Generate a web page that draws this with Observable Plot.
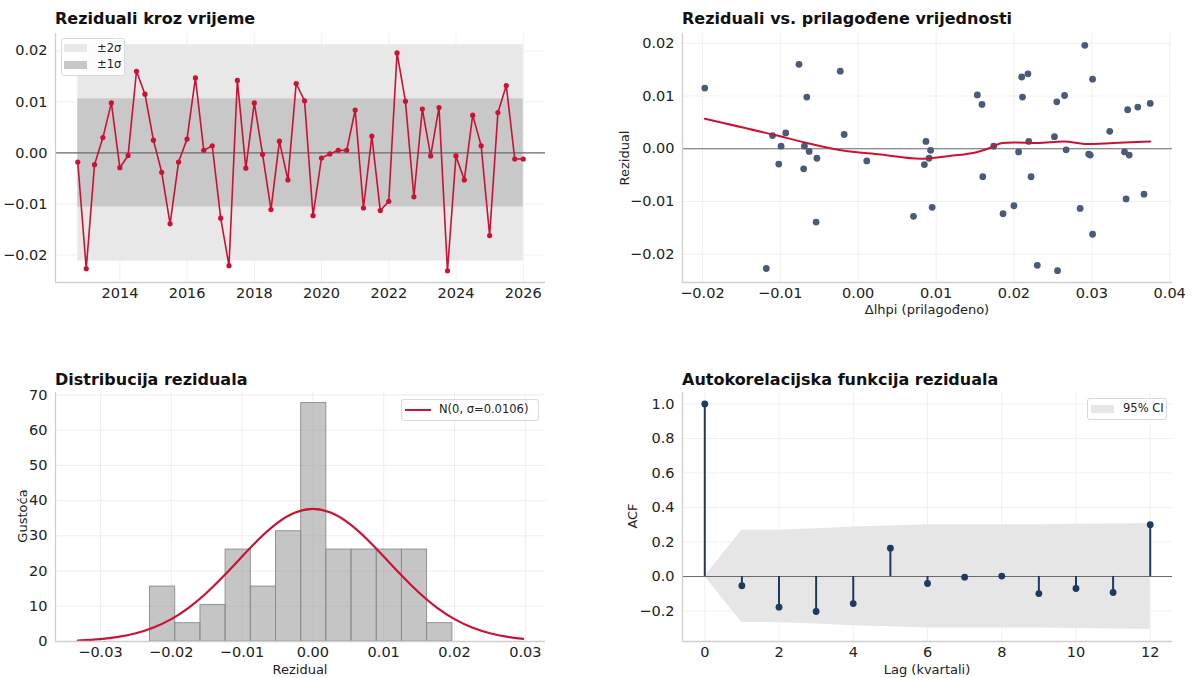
<!DOCTYPE html>
<html><head><meta charset="utf-8">
<script src="https://cdn.jsdelivr.net/npm/d3@7"></script>
<script src="https://cdn.jsdelivr.net/npm/@observablehq/plot@0.6"></script>
<style>
body{margin:0;background:#fff;}
#fig{position:relative;width:1194px;height:678px;overflow:hidden;font-family:"DejaVu Sans",sans-serif;color:#222;background:#fff;}
#fig svg, #fig svg g, #fig svg text{font-size:14.5px !important;font-family:"DejaVu Sans",sans-serif !important;}
.panel{position:absolute;}
.title{position:absolute;font-weight:bold;font-size:16px;color:#111;white-space:nowrap;line-height:1;transform:translateY(-50%);}
.lab{position:absolute;font-size:13px;white-space:nowrap;line-height:1;color:#222;}
.ylab{transform:translate(-50%,-50%) rotate(-90deg);}
.xlab{transform:translate(-50%,-50%);}
.box{position:absolute;background:rgba(255,255,255,0.85);border:1px solid #d9d9d9;border-radius:3px;box-sizing:border-box;}
.ltxt{position:absolute;font-size:11.5px;white-space:nowrap;line-height:1;transform:translateY(-50%);color:#222;}
.abs{position:absolute;}
</style></head>
<body>
<div id="fig"></div>
<script>
// ---------- data ----------
const residuals = [-0.0018, -0.0227, -0.0023, 0.0030, 0.0098, -0.0029, -0.0005, 0.0160, 0.0115, 0.0025,
 -0.0038, -0.0139, -0.0018, 0.0027, 0.0147, 0.0005, 0.0014, -0.0128, -0.0221, 0.0142,
 -0.0030, 0.0098, -0.0003, -0.0111, 0.0023, -0.0053, 0.0136, 0.0102, -0.0123, -0.0010,
 -0.0002, 0.0005, 0.0005, 0.0084, -0.0108, 0.0033, -0.0113, -0.0095, 0.0196, 0.0101,
 -0.0086, 0.0086, -0.0006, 0.0089, -0.0231, -0.0006, -0.0053, 0.0074, 0.0014, -0.0162,
 0.0079, 0.0132, -0.0012, -0.0012];
const fitted = [-0.0053, -0.0118, 0.0011, -0.0093, -0.0066, -0.0102, -0.0063, -0.0076, -0.0197, -0.0110,
 -0.0070, -0.0054, 0.0091, -0.0018, -0.0023, -0.0099, 0.0087, 0.0071, 0.0230, 0.0218,
 0.0085, 0.0211, 0.0093, 0.0095, 0.0252, 0.0160, 0.0210, 0.0153, 0.0186, 0.0296,
 0.0267, -0.0069, 0.0174, 0.0159, 0.0200, 0.0323, 0.0285, 0.0344, 0.0291, 0.0265,
 0.0367, 0.0375, 0.0206, 0.0255, 0.0256, 0.0342, 0.0222, 0.0346, 0.0219, 0.0301,
 0.0359, 0.0301, 0.0348, 0.0298];
const sigma = 0.0106;
const firstQuarterEnd = "2012-09-30";
const yearTicks = [2014, 2016, 2018, 2020, 2022, 2024, 2026];

const lowessX = [-0.0197, -0.0107, -0.0069, -0.0022, 0.0029, 0.0080, 0.0115, 0.0153, 0.0170, 0.0185, 0.0200, 0.0230, 0.0264, 0.0294, 0.0328, 0.0375];
const lowessY = [0.0057, 0.0026, 0.0012, -0.0003, -0.0011, -0.0019, -0.0014, -0.0006, 0.0002, 0.0011, 0.0012, 0.0011, 0.0014, 0.0009, 0.0011, 0.0014];

const binEdges = [-0.0230, -0.01944, -0.01588, -0.01233, -0.00877, -0.00521, -0.00165, 0.00190, 0.00546, 0.00902, 0.01257, 0.01613, 0.0197];
const binDensity = [15.6, 5.2, 10.4, 26.1, 15.6, 31.3, 67.7, 26.1, 26.1, 26.1, 26.1, 5.2];

const normalX = [-0.0332, -0.030, -0.0275, -0.025, -0.0225, -0.020, -0.0175, -0.015, -0.0125, -0.010, -0.0075, -0.005, -0.0025, 0,
  0.0025, 0.005, 0.0075, 0.010, 0.0125, 0.015, 0.0175, 0.020, 0.0225, 0.025, 0.0275, 0.0297];
const normalY = [0.28, 0.69, 1.30, 2.33, 3.96, 6.35, 9.63, 13.83, 18.78, 24.12, 29.31, 33.68, 36.61, 37.64,
  36.61, 33.68, 29.31, 24.12, 18.78, 13.83, 9.63, 6.35, 3.96, 2.33, 1.30, 0.74];

const lags = [0, 1, 2, 3, 4, 5, 6, 7, 8, 9, 10, 11, 12];
const acfValues = [1.0, -0.054, -0.178, -0.203, -0.157, 0.164, -0.041, -0.004, 0.002, -0.099, -0.070, -0.093, 0.300];
const ciHalf = [0, 0.267, 0.268, 0.276, 0.286, 0.292, 0.299, 0.299, 0.299, 0.299, 0.302, 0.304, 0.307];

// ---------- helpers ----------
const fig = document.getElementById("fig");
const RED = "#cc1133", NAVY = "#1e3a5f", DOT = "#4b5a78", GRID = "#f0f0f0", SPINE = "#cfcfcf", ZERO = "#6b6b6b";
const minus = s => s.replace("-", "\u2212");
const fmt = k => d => minus(d.toFixed(k));
const style = {fontFamily: "DejaVu Sans", fontSize: "14.5px", color: "#222", background: "transparent", overflow: "visible"};
function place(el, left, top) { el.classList.add("panel"); el.style.left = left + "px"; el.style.top = top + "px"; fig.appendChild(el); }
function html(cls, text, css) { const d = document.createElement("div"); d.className = cls; if (text != null) d.textContent = text; Object.assign(d.style, css); fig.appendChild(d); return d; }
function spines(xd, yd) {
  return [Plot.ruleX([xd[0]], {stroke: SPINE, strokeWidth: 1.3}), Plot.ruleY([yd[0]], {stroke: SPINE, strokeWidth: 1.3})];
}

// ---------- panel 1 : residuals over time ----------
const t0 = new Date(firstQuarterEnd + "T00:00:00Z");
const dates = residuals.map((_, i) => new Date(Date.UTC(t0.getUTCFullYear(), t0.getUTCMonth() + 1 + 3 * i, 0)));
const series = residuals.map((r, i) => ({date: dates[i], r}));
const dFirst = dates[0], dLast = dates[dates.length - 1], pad = (dLast - dFirst) * 0.05;
const xd1 = [new Date(+dFirst - pad), new Date(+dLast + pad)];
const yd1 = [-0.0254, 0.0234];
const yT1 = [-0.02, -0.01, 0, 0.01, 0.02];
const tickDates = yearTicks.map(y => new Date(Date.UTC(y, 0, 1)));
const p1 = Plot.plot({
  width: 597, height: 339, marginLeft: 55, marginRight: 52, marginTop: 33, marginBottom: 57,
  style,
  x: {type: "utc", domain: xd1, ticks: tickDates, tickFormat: d3.utcFormat("%Y"), tickSize: 0, tickPadding: 5, label: null},
  y: {domain: yd1, ticks: yT1, tickFormat: fmt(2), tickSize: 0, tickPadding: 8, label: null},
  marks: [
    Plot.ruleX(tickDates, {stroke: GRID}),
    Plot.ruleY(yT1, {stroke: GRID}),
    Plot.rect([{a: dFirst, b: dLast, lo: -2 * sigma, hi: 2 * sigma}], {x1: "a", x2: "b", y1: "lo", y2: "hi", fill: "#e8e8e8"}),
    Plot.rect([{a: dFirst, b: dLast, lo: -sigma, hi: sigma}], {x1: "a", x2: "b", y1: "lo", y2: "hi", fill: "#c8c8c8"}),
    Plot.ruleY([0], {stroke: ZERO, strokeWidth: 1.1}),
    Plot.line(series, {x: "date", y: "r", stroke: RED, strokeWidth: 1.6}),
    Plot.dot(series, {x: "date", y: "r", r: 2.6, fill: RED, stroke: "none"}),
    ...spines(xd1, yd1)
  ]
});
place(p1, 0, 0);

// ---------- panel 2 : residuals vs fitted ----------
const xd2 = [-0.02256, 0.04036], yd2 = [-0.02535, 0.02185];
const xT2 = [-0.02, -0.01, 0, 0.01, 0.02, 0.03, 0.04], yT2 = [-0.02, -0.01, 0, 0.01, 0.02];
const scat = residuals.map((r, i) => ({f: fitted[i], r}));
const low = lowessX.map((x, i) => ({x, y: lowessY[i]}));
const p2 = Plot.plot({
  width: 597, height: 339, marginLeft: 85, marginRight: 22, marginTop: 33, marginBottom: 57,
  style,
  x: {domain: xd2, ticks: xT2, tickFormat: fmt(2), tickSize: 0, tickPadding: 5, label: null},
  y: {domain: yd2, ticks: yT2, tickFormat: fmt(2), tickSize: 0, tickPadding: 8, label: null},
  marks: [
    Plot.ruleX(xT2, {stroke: GRID}),
    Plot.ruleY(yT2, {stroke: GRID}),
    Plot.ruleY([0], {stroke: ZERO, strokeWidth: 1.1}),
    Plot.dot(scat, {x: "f", y: "r", r: 3.4, fill: DOT, stroke: "none"}),
    Plot.line(low, {x: "x", y: "y", stroke: RED, strokeWidth: 2, curve: "monotone-x"}),
    ...spines(xd2, yd2)
  ]
});
place(p2, 597, 0);

// ---------- panel 3 : histogram ----------
const xd3 = [-0.03635, 0.03285], yd3 = [0, 70.7];
const xT3 = [-0.03, -0.02, -0.01, 0, 0.01, 0.02, 0.03], yT3 = [0, 10, 20, 30, 40, 50, 60, 70];
const bins = binDensity.map((d, i) => ({x1: binEdges[i], x2: binEdges[i + 1], d}));
const norm = normalX.map((x, i) => ({x, y: normalY[i]}));
const p3 = Plot.plot({
  width: 597, height: 339, marginLeft: 55, marginRight: 52, marginTop: 53, marginBottom: 37,
  style,
  x: {domain: xd3, ticks: xT3, tickFormat: fmt(2), tickSize: 0, tickPadding: 5, label: null},
  y: {domain: yd3, ticks: yT3, tickFormat: d => String(d), tickSize: 0, tickPadding: 8, label: null},
  marks: [
    Plot.ruleX(xT3, {stroke: "#eeeeee"}),
    Plot.ruleY(yT3, {stroke: "#eeeeee"}),
    Plot.rectY(bins, {x1: "x1", x2: "x2", y: "d", fill: "#9e9e9e", fillOpacity: 0.6, stroke: "#8a8a8a", strokeWidth: 0.9}),
    Plot.line(norm, {x: "x", y: "y", stroke: RED, strokeWidth: 2.2, curve: "natural"}),
    ...spines(xd3, yd3)
  ]
});
place(p3, 0, 339);

// ---------- panel 4 : ACF ----------
const xd4 = [-0.6, 12.6], yd4 = [-0.377, 1.066];
const xT4 = [0, 2, 4, 6, 8, 10, 12], yT4 = [-0.2, 0, 0.2, 0.4, 0.6, 0.8, 1.0];
const acf = lags.map((k, i) => ({k, v: acfValues[i], lo: -ciHalf[i], hi: ciHalf[i]}));
const p4 = Plot.plot({
  width: 597, height: 339, marginLeft: 85, marginRight: 22, marginTop: 53, marginBottom: 37,
  style,
  x: {domain: xd4, ticks: xT4, tickFormat: d => String(d), tickSize: 0, tickPadding: 5, label: null},
  y: {domain: yd4, ticks: yT4, tickFormat: fmt(1), tickSize: 0, tickPadding: 8, label: null},
  marks: [
    Plot.ruleX(xT4, {stroke: GRID}),
    Plot.ruleY(yT4, {stroke: GRID}),
    Plot.areaY(acf, {x: "k", y1: "lo", y2: "hi", fill: "#e6e6e6"}),
    Plot.ruleY([0], {stroke: ZERO, strokeWidth: 1.1}),
    Plot.ruleX(acf, {x: "k", y1: 0, y2: "v", stroke: NAVY, strokeWidth: 2}),
    Plot.dot(acf, {x: "k", y: "v", r: 3.4, fill: NAVY, stroke: "none"}),
    ...spines(xd4, yd4)
  ]
});
place(p4, 597, 339);

// ---------- titles & labels ----------
html("title", "Reziduali kroz vrijeme", {left: "55px", top: "19px"});
html("title", "Reziduali vs. prilagođene vrijednosti", {left: "682px", top: "19px"});
html("title", "Distribucija reziduala", {left: "55px", top: "380px"});
html("title", "Autokorelacijska funkcija reziduala", {left: "682px", top: "380px"});

html("lab ylab", "Rezidual", {left: "624px", top: "158px"});
html("lab xlab", "Δlhpi (prilagođeno)", {left: "927px", top: "309px"});
html("lab ylab", "Gustoća", {left: "22px", top: "516px"});
html("lab xlab", "Rezidual", {left: "300px", top: "669px"});
html("lab ylab", "ACF", {left: "632px", top: "516px"});
html("lab xlab", "Lag (kvartali)", {left: "927px", top: "669px"});

// legend panel 1
html("box", null, {left: "61px", top: "38px", width: "64px", height: "38px"});
html("abs", null, {left: "64px", top: "44px", width: "23px", height: "8px", background: "#e8e8e8"});
html("ltxt", "±2σ", {left: "97px", top: "48.5px"});
html("abs", null, {left: "64px", top: "61px", width: "23px", height: "8px", background: "#c8c8c8"});
html("ltxt", "±1σ", {left: "97px", top: "65px"});
// legend panel 3
html("box", null, {left: "401px", top: "399px", width: "138px", height: "22px"});
html("abs", null, {left: "405px", top: "408.5px", width: "26px", height: "2.4px", background: RED});
html("ltxt", "N(0, σ=0.0106)", {left: "439px", top: "410px"});
// legend panel 4
html("box", null, {left: "1087px", top: "398px", width: "80px", height: "22px"});
html("abs", null, {left: "1091px", top: "405px", width: "23px", height: "8px", background: "#e6e6e6"});
html("ltxt", "95% CI", {left: "1123px", top: "409px"});
</script>
</body></html>
